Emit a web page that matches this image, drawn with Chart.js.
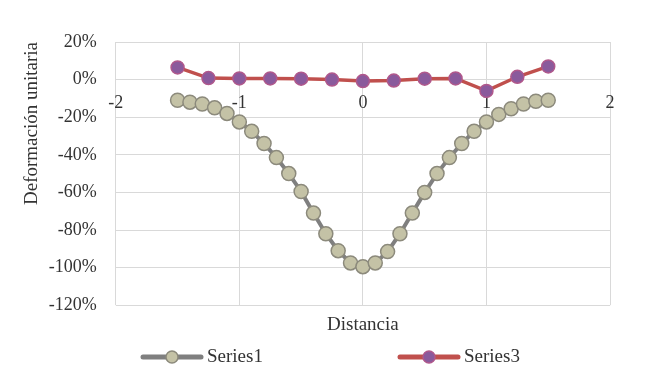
<!DOCTYPE html>
<html>
<head>
<meta charset="utf-8">
<script src="https://cdn.jsdelivr.net/npm/chart.js@4.4.1/dist/chart.umd.min.js"></script>
<style>
  html, body { margin: 0; padding: 0; background: #fff; }
  #wrap { width: 650px; height: 378px; }
</style>
</head>
<body>
<div id="wrap"><canvas id="chart"></canvas></div>
<script>
// Series values (deformation in %)
const series1X = [-1.5, -1.4, -1.3, -1.2, -1.1, -1.0, -0.9, -0.8, -0.7, -0.6, -0.5,
                  -0.4, -0.3, -0.2, -0.1, 0, 0.1, 0.2, 0.3, 0.4, 0.5,
                  0.6, 0.7, 0.8, 0.9, 1.0, 1.1, 1.2, 1.3, 1.4, 1.5];
const series1Y = [-11, -12, -13, -15, -18, -22.5, -27.5, -34, -41.5, -50, -59.5,
                  -71, -82, -91, -97.5, -99.5, -97.5, -91.5, -82, -71, -60,
                  -50, -41.5, -34, -27.5, -22.5, -18.5, -15.5, -13, -11.5, -11];
const series3X = [-1.5, -1.25, -1.0, -0.75, -0.5, -0.25, 0, 0.25, 0.5, 0.75, 1.0, 1.25, 1.5];
const series3Y = [6.5, 0.8, 0.6, 0.6, 0.5, 0, -0.8, -0.5, 0.5, 0.6, -6, 1.5, 7];

const xMin = -2, xMax = 2, xStep = 1;
const yMin = -120, yMax = 20, yStep = 20;

const serif = 'Liberation Serif';
const textColor = '#333333';
const gridColor = '#d9d9d9';

// Legend drawn as line + marker, like the spreadsheet legend
const lineLegend = {
    id: 'lineLegend',
    afterDraw(chart) {
        const ctx = chart.ctx;
        const y = chart.height - 21;
        const starts = [143, 400];
        ctx.save();
        chart.data.datasets.forEach((ds, i) => {
            const x = starts[i];
            ctx.strokeStyle = ds.borderColor;
            ctx.lineWidth = 5;
            ctx.lineCap = 'round';
            ctx.beginPath();
            ctx.moveTo(x, y);
            ctx.lineTo(x + 58, y);
            ctx.stroke();
            ctx.beginPath();
            ctx.arc(x + 29, y, 6, 0, Math.PI * 2);
            ctx.fillStyle = ds.pointBackgroundColor;
            ctx.fill();
            ctx.lineWidth = 1.5;
            ctx.strokeStyle = ds.pointBorderColor;
            ctx.stroke();
            ctx.fillStyle = textColor;
            ctx.font = '19px "' + serif + '"';
            ctx.textBaseline = 'middle';
            ctx.fillText(ds.label, x + 64, y);
        });
        ctx.restore();
    }
};

const ctx = document.getElementById('chart').getContext('2d');
new Chart(ctx, {
    type: 'line',
    data: {
        datasets: [
            {
                label: 'Series1',
                data: series1X.map((x, i) => ({ x: x, y: series1Y[i] })),
                borderColor: '#7f7f7f',
                borderWidth: 4,
                pointRadius: 7,
                pointBackgroundColor: '#c4c2a6',
                pointBorderColor: '#8c8a7c',
                pointBorderWidth: 1.5,
                tension: 0
            },
            {
                label: 'Series3',
                data: series3X.map((x, i) => ({ x: x, y: series3Y[i] })),
                borderColor: '#c0504d',
                borderWidth: 3.5,
                pointRadius: 6.5,
                pointBackgroundColor: '#8a5a9c',
                pointBorderColor: '#b0588c',
                pointBorderWidth: 1.5,
                tension: 0
            }
        ]
    },
    options: {
        responsive: true,
        maintainAspectRatio: false,
        animation: false,
        layout: {
            padding: { left: 15, right: 40, top: 42, bottom: 40 }
        },
        plugins: {
            legend: { display: false },
            tooltip: { enabled: false }
        },
        scales: {
            x: {
                type: 'linear',
                position: { y: 0 },
                min: xMin,
                max: xMax,
                ticks: {
                    stepSize: xStep,
                    padding: 13,
                    color: textColor,
                    font: { family: serif, size: 18 }
                },
                grid: { color: gridColor, drawTicks: false },
                border: { display: false }
            },
            xTitle: {
                type: 'linear',
                axis: 'x',
                position: 'bottom',
                min: xMin,
                max: xMax,
                ticks: { display: false },
                grid: { display: false, drawTicks: false },
                border: { display: false },
                title: {
                    display: true,
                    text: 'Distancia',
                    color: textColor,
                    font: { family: serif, size: 19 },
                    padding: { top: 8, bottom: 2 }
                }
            },
            y: {
                min: yMin,
                max: yMax,
                ticks: {
                    stepSize: yStep,
                    padding: 19,
                    color: textColor,
                    font: { family: serif, size: 18 },
                    callback: v => v + '%'
                },
                grid: { color: gridColor, drawTicks: false },
                border: { display: false },
                title: {
                    display: true,
                    text: 'Deformación unitaria',
                    align: 'end',
                    color: textColor,
                    font: { family: serif, size: 19 },
                    padding: { top: 6, bottom: -14 }
                }
            }
        }
    },
    plugins: [lineLegend]
});
</script>
</body>
</html>
